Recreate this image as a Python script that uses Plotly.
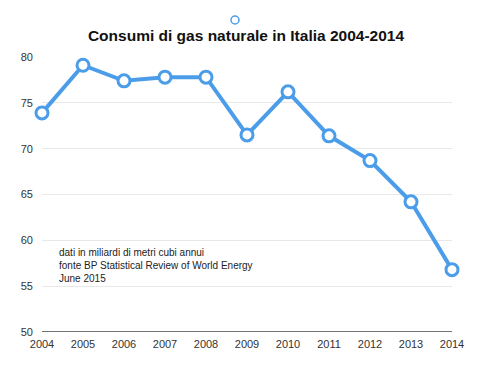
import plotly.graph_objects as go

years = [2004, 2005, 2006, 2007, 2008, 2009, 2010, 2011, 2012, 2013, 2014]
consumi = [73.9, 79.1, 77.4, 77.8, 77.8, 71.5, 76.2, 71.4, 68.7, 64.2, 56.8]
y_ticks = [50, 55, 60, 65, 70, 75, 80]
title = "Consumi di gas naturale in Italia 2004-2014"
note = "dati in miliardi di metri cubi annui<br>fonte BP Statistical Review of World Energy<br>June 2015"

blue = "#4b9de9"
fig = go.Figure()
fig.add_trace(go.Scatter(
    x=years, y=consumi, mode="lines+markers",
    line=dict(color=blue, width=4),
    marker=dict(size=12, color="white", line=dict(color=blue, width=3)),
    cliponaxis=False, showlegend=False, hoverinfo="x+y"))

fig.update_layout(
    width=500, height=372,
    margin=dict(l=42, r=48, t=57, b=40),
    paper_bgcolor="white", plot_bgcolor="white",
    font=dict(family="Liberation Sans, Arial, sans-serif", color="#333", size=11),
    title=dict(text="<b>" + title + "</b>", x=0.492, xanchor="center", y=0.905, yanchor="middle",
               font=dict(size=15.5, color="#111")),
    xaxis=dict(range=[2004, 2014], tickvals=years, ticktext=[str(y) for y in years],
               showgrid=False, zeroline=False, showline=False, ticks="", ticklen=0,
               ticklabelstandoff=4, automargin=False, tickfont=dict(size=11)),
    yaxis=dict(range=[50, 80], tickvals=y_ticks, showgrid=True, gridcolor="#e8e8e8",
               gridwidth=1, zeroline=False, showline=False, ticks="", ticklabelstandoff=8,
               automargin=False, tickfont=dict(size=11)),
    annotations=[dict(text=note, xref="paper", yref="paper", x=0.037, y=0.318,
                      xanchor="left", yanchor="top", align="left", showarrow=False,
                      font=dict(size=10, color="#222"))],
    shapes=[dict(type="line", xref="paper", yref="y", x0=0, x1=1, y0=50, y1=50,
                 line=dict(color="#444", width=1.5)),
            dict(type="circle", xref="paper", yref="paper", x0=(231-42)/410, x1=(239-42)/410,
                 y0=(372-40-24)/275, y1=(372-40-16)/275,
                 line=dict(color=blue, width=1.5), fillcolor="white")],
)
fig.write_html("out.html", post_script="document.body.style.margin='0';",
               config={"displayModeBar": False})
